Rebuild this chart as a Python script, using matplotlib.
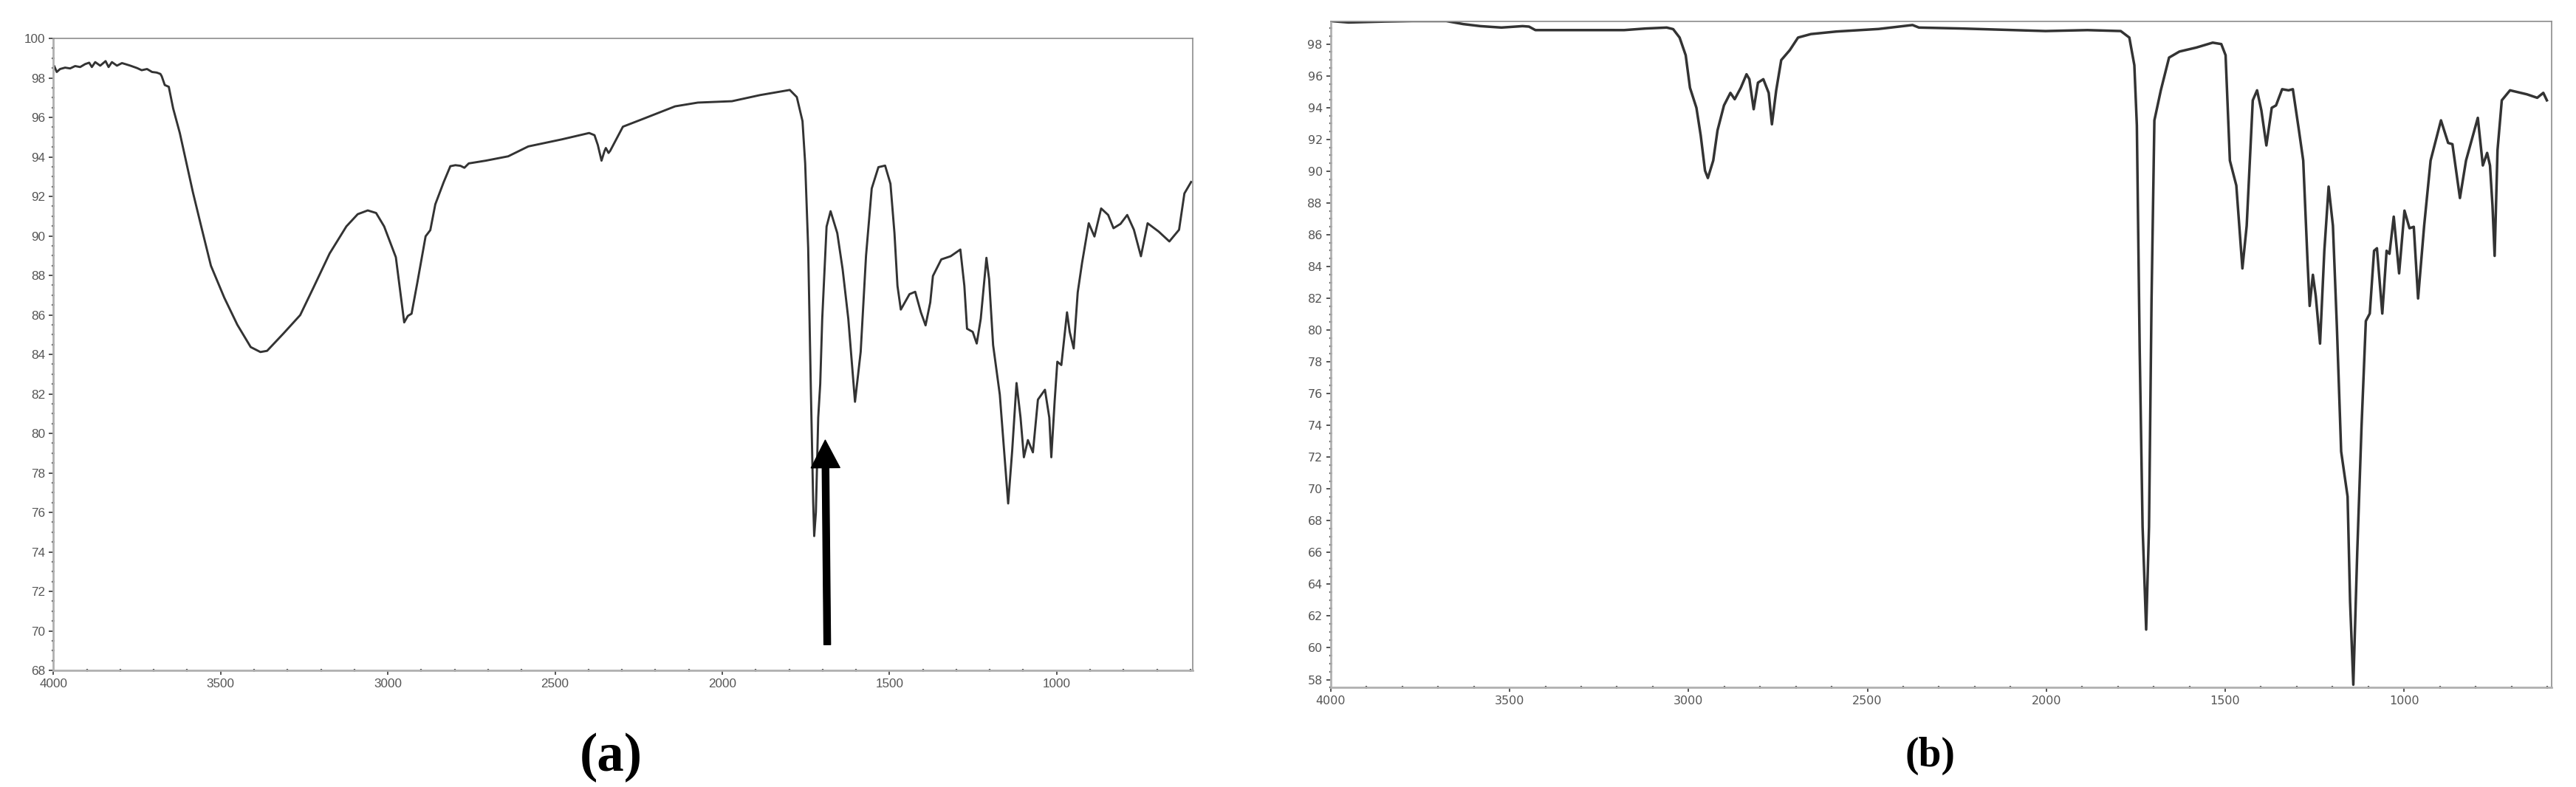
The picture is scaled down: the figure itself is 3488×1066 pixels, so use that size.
import matplotlib
matplotlib.use("Agg")
import matplotlib.pyplot as plt
from matplotlib.ticker import MultipleLocator
from matplotlib.patches import FancyArrowPatch

# ---------------- data ----------------
a_wavenumber = [3997, 3990, 3980, 3965, 3950, 3935, 3920, 3905, 3893, 3885, 3875, 3860, 3844,
                3835, 3825, 3810, 3795, 3785, 3770, 3750, 3736, 3720, 3705, 3691, 3680, 3676,
                3667, 3655, 3642, 3622, 3583, 3558, 3529, 3489, 3450, 3410, 3381, 3361, 3312,
                3262, 3223, 3174, 3124, 3090, 3060, 3035, 3011, 2986, 2976, 2966, 2951, 2940,
                2929, 2912, 2887, 2873, 2858, 2833, 2813, 2798, 2783, 2771, 2758, 2707, 2640,
                2580, 2479, 2398, 2382, 2372, 2361, 2352, 2348, 2340, 2335, 2297, 2242, 2141,
                2073, 1971, 1887, 1798, 1777, 1760, 1752, 1743, 1735, 1728, 1725, 1720, 1713,
                1707, 1701, 1688, 1676, 1656, 1640, 1623, 1603, 1586, 1570, 1553, 1533, 1513,
                1497, 1485, 1476, 1466, 1455, 1440, 1423, 1406, 1392, 1378, 1370, 1345, 1317,
                1288, 1276, 1268, 1251, 1239, 1227, 1210, 1202, 1190, 1170, 1157, 1145, 1133,
                1120, 1108, 1098, 1086, 1071, 1056, 1035, 1022, 1016, 1006, 998, 986, 969, 961,
                949, 937, 924, 904, 887, 867, 846, 830, 809, 789, 769, 748, 728, 695, 663, 634,
                618, 598]
a_transmittance = [98.58, 98.30, 98.45, 98.52, 98.48, 98.60, 98.55, 98.70, 98.77, 98.55, 98.80,
                   98.62, 98.85, 98.55, 98.80, 98.62, 98.75, 98.70, 98.62, 98.50, 98.39, 98.45,
                   98.30, 98.27, 98.20, 98.08, 97.64, 97.55, 96.46, 95.21, 92.22, 90.48, 88.49,
                   86.87, 85.50, 84.37, 84.12, 84.18, 85.06, 85.99, 87.36, 89.11, 90.48, 91.10,
                   91.29, 91.16, 90.48, 89.36, 88.92, 87.61, 85.62, 85.95, 86.06, 87.61, 89.98,
                   90.29, 91.60, 92.72, 93.53, 93.58, 93.55, 93.45, 93.67, 93.81, 94.03, 94.53,
                   94.89, 95.21, 95.10, 94.60, 93.81, 94.30, 94.45, 94.20, 94.31, 95.53, 95.89,
                   96.56, 96.75, 96.82, 97.13, 97.39, 97.03, 95.81, 93.67, 89.38, 82.22, 76.50,
                   74.80, 76.00, 80.80, 82.50, 85.80, 90.47, 91.25, 90.14, 88.31, 85.80, 81.60,
                   84.13, 89.00, 92.40, 93.48, 93.56, 92.64, 90.14, 87.47, 86.27, 86.60, 87.05,
                   87.17, 86.13, 85.47, 86.63, 87.97, 88.81, 88.97, 89.31, 87.47, 85.30, 85.14,
                   84.55, 85.80, 88.89, 87.81, 84.47, 81.96, 79.12, 76.45, 79.12, 82.55, 80.80,
                   78.79, 79.66, 79.04, 81.71, 82.21, 80.80, 78.79, 81.63, 83.63, 83.46, 86.13,
                   85.14, 84.30, 87.14, 88.64, 90.64, 89.97, 91.39, 91.06, 90.39, 90.61, 91.06,
                   90.31, 88.97, 90.64, 90.22, 89.72, 90.31, 92.15, 92.73]

b_wavenumber = [4000, 3950, 3850, 3772, 3677, 3630, 3582, 3523, 3464, 3446, 3428, 3298, 3180,
                3120, 3061, 3043, 3025, 3008, 2996, 2978, 2966, 2954, 2946, 2931, 2919, 2901,
                2883, 2871, 2854, 2838, 2830, 2818, 2806, 2791, 2776, 2767, 2755, 2741, 2717,
                2694, 2658, 2587, 2469, 2374, 2356, 2237, 2002, 1885, 1792, 1768, 1754, 1747,
                1739, 1731, 1721, 1713, 1706, 1698, 1680, 1657, 1628, 1581, 1535, 1511, 1499,
                1487, 1469, 1452, 1440, 1423, 1411, 1399, 1385, 1370, 1358, 1341, 1323, 1311,
                1294, 1282, 1270, 1264, 1255, 1247, 1235, 1223, 1211, 1199, 1188, 1176, 1158,
                1151, 1142, 1131, 1119, 1107, 1096, 1084, 1076, 1061, 1049, 1041, 1029, 1014,
                999, 985, 973, 961, 944, 926, 897, 877, 865, 844, 827, 794, 780, 768, 760, 753,
                747, 739, 727, 704, 657, 628, 611, 601]
b_transmittance = [99.45, 99.36, 99.42, 99.45, 99.45, 99.26, 99.13, 99.04, 99.13, 99.10, 98.88,
                   98.88, 98.88, 98.98, 99.04, 98.94, 98.41, 97.30, 95.25, 93.99, 92.25, 90.04,
                   89.57, 90.67, 92.57, 94.14, 94.93, 94.53, 95.25, 96.10, 95.79, 93.90, 95.57,
                   95.79, 94.93, 92.95, 95.09, 96.99, 97.62, 98.41, 98.63, 98.79, 98.95, 99.20,
                   99.04, 98.98, 98.82, 98.88, 98.82, 98.41, 96.67, 92.88, 78.67, 67.62, 61.15,
                   67.62, 81.83, 93.20, 95.09, 97.15, 97.53, 97.78, 98.09, 98.00, 97.30, 90.67,
                   89.10, 83.88, 86.57, 94.46, 95.09, 93.83, 91.62, 93.99, 94.14, 95.16, 95.09,
                   95.16, 92.57, 90.67, 84.36, 81.52, 83.48, 82.15, 79.15, 84.99, 89.03, 86.57,
                   80.25, 72.36, 69.52, 62.89, 57.68, 66.04, 73.94, 80.57, 81.04, 84.99, 85.15,
                   81.04, 84.99, 84.80, 87.14, 83.57, 87.52, 86.41, 86.50, 81.99, 86.57, 90.67,
                   93.20, 91.78, 91.70, 88.31, 90.67, 93.36, 90.36, 91.15, 90.36, 87.83, 84.67,
                   91.31, 94.46, 95.09, 94.84, 94.62, 94.93, 94.46]

arrow_tail = (1686, 69.3)
arrow_tip = (1692, 79.66)
panel_labels = ["(a)", "(b)"]

# ---------------- figure ----------------
DPI = 100
fig = plt.figure(figsize=(34.88, 10.66), dpi=DPI)

ax_a = fig.add_axes([0.02073, 0.1482, 0.4423, 0.8030])
ax_b = fig.add_axes([0.5166, 0.12636, 0.4739, 0.8469])


def style_axes(ax, font, fsize):
    for s in ("top", "right"):
        ax.spines[s].set_color("#8c8c8c")
        ax.spines[s].set_linewidth(1.2)
    for s in ("left", "bottom"):
        ax.spines[s].set_color("#b0b0b0")
        ax.spines[s].set_linewidth(2.0)
    ax.tick_params(which="major", direction="out", length=4, width=1.4,
                   color="#555555", labelcolor="#555555", labelsize=fsize, pad=4)
    ax.tick_params(which="minor", direction="inout", length=3, width=1.6, color="#555555")
    ax.tick_params(top=False, right=False, which="both")
    for lab in ax.get_xticklabels() + ax.get_yticklabels():
        lab.set_fontfamily(font)
    ax.xaxis.set_major_locator(MultipleLocator(500))
    ax.xaxis.set_minor_locator(MultipleLocator(100))
    ax.yaxis.set_major_locator(MultipleLocator(2))
    ax.yaxis.set_minor_locator(MultipleLocator(0.5))


ax_a.plot(a_wavenumber, a_transmittance, color="#333333", lw=2.1, solid_joinstyle="round")
ax_a.set_xlim(4000, 593)
ax_a.set_ylim(68, 100)
style_axes(ax_a, "Liberation Sans", 12.3)

ax_b.plot(b_wavenumber, b_transmittance, color="#333333", lw=2.5, solid_joinstyle="round")
ax_b.set_xlim(4000, 588)
ax_b.set_ylim(57.5, 99.45)
style_axes(ax_b, "DejaVu Sans", 11.5)

arrow = FancyArrowPatch(arrow_tail, arrow_tip,
                        arrowstyle="simple,head_length=27,head_width=28,tail_width=6.5",
                        mutation_scale=1, color="black", shrinkA=0, shrinkB=0, zorder=5)
ax_a.add_patch(arrow)

fig.text(827 / 3488, 1 - 1026 / 1066, panel_labels[0], ha="center", va="center",
         fontsize=52.5, fontweight="bold", family="Liberation Serif")
fig.text(2613 / 3488, 1 - 1024 / 1066, panel_labels[1], ha="center", va="center",
         fontsize=40, fontweight="bold", family="Liberation Serif")

fig.savefig("out.png", dpi=DPI, facecolor="white")
